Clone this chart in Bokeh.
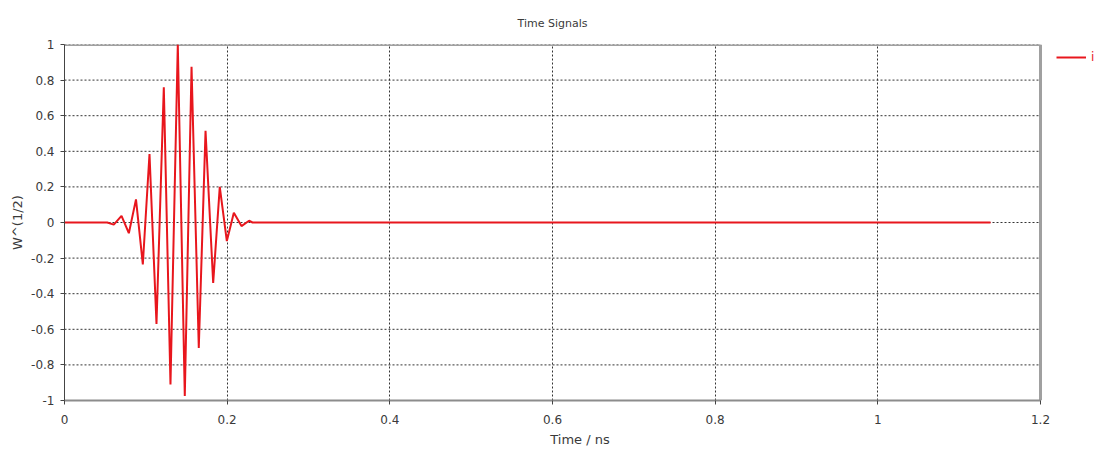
from bokeh.plotting import figure
from bokeh.models import Range1d, FixedTicker, Legend, LegendItem
from bokeh.embed import file_html
from bokeh.resources import INLINE

# ---- data ----
x_ticks = [0, 0.2, 0.4, 0.6, 0.8, 1, 1.2]
x_tick_labels = ["0", "0.2", "0.4", "0.6", "0.8", "1", "1.2"]
y_ticks = [-1, -0.8, -0.6, -0.4, -0.2, 0, 0.2, 0.4, 0.6, 0.8, 1]
y_tick_labels = ["-1", "-0.8", "-0.6", "-0.4", "-0.2", "0", "0.2", "0.4", "0.6", "0.8", "1"]

# time (ns) and signal (W^(1/2)) at the extrema of the pulse
time_ns = [0.0, 0.0525, 0.0606, 0.0701, 0.0791, 0.0879, 0.0963, 0.1045, 0.1131,
           0.1221, 0.1303, 0.1393, 0.1479, 0.1562, 0.1651, 0.1734, 0.1828, 0.1909,
           0.1996, 0.2082, 0.2176, 0.2269, 0.2312, 1.1386]
signal = [0.0, 0.0, -0.012, 0.037, -0.06, 0.13, -0.235, 0.385, -0.57,
          0.76, -0.91, 1.0, -0.975, 0.875, -0.705, 0.515, -0.34, 0.20,
          -0.104, 0.055, -0.02, 0.01, 0.0, 0.0]
series_name = "i"

FONT = "DejaVu Sans"
TXT = "#3a3a3a"
BORDER = "#a0a0a0"

# plot area reaches the right edge so the legend (outside the axes box) is visible;
# the axes box itself ends at the last x tick
x_min, x_max = x_ticks[0], x_ticks[-1]
y_min, y_max = y_ticks[0], y_ticks[-1]
x_view_end = x_max * (1095 - 64) / 976.0

p = figure(width=1095, height=452, output_backend="svg", toolbar_location=None,
           x_range=Range1d(x_min, x_view_end), y_range=Range1d(y_min, y_max),
           min_border_left=64, min_border_right=0, min_border_top=43, min_border_bottom=52,
           background_fill_color="white", border_fill_color="white")

p.title.text = "Time Signals"
p.title.align = "left"
p.title.offset = 453
p.title.text_font = FONT
p.title.text_font_size = "11px"
p.title.text_font_style = "normal"
p.title.text_color = TXT
p.title.standoff = 29

p.outline_line_color = None

# grids: vertical via Grid, horizontal drawn only across the axes box
p.xgrid.ticker = FixedTicker(ticks=x_ticks)
p.xgrid.grid_line_color = "#333333"
p.xgrid.grid_line_dash = "2 2"
p.xgrid.grid_line_width = 1
p.ygrid.visible = False
p.segment(x0=[x_min] * len(y_ticks), x1=[x_max] * len(y_ticks), y0=y_ticks, y1=y_ticks,
          line_color="#333333", line_dash="2 2", line_width=1, level="underlay")

# axes box top and right edges
p.segment(x0=[x_min, x_max], x1=[x_max, x_max], y0=[y_max, y_min], y1=[y_max, y_max],
          line_color=BORDER, line_width=3)

# axes
p.xaxis.ticker = FixedTicker(ticks=x_ticks)
p.yaxis.ticker = FixedTicker(ticks=y_ticks)
p.xaxis.bounds = (x_min, x_max)
p.xaxis.major_label_overrides = dict(zip(x_ticks, x_tick_labels))
p.yaxis.major_label_overrides = dict(zip(y_ticks, y_tick_labels))
for ax in (p.xaxis, p.yaxis):
    ax.major_tick_out = 4
    ax.major_tick_in = 0
    ax.minor_tick_line_color = None
    ax.major_tick_line_color = "#444444"
    ax.major_label_text_font = FONT
    ax.major_label_text_font_size = "12px"
    ax.major_label_text_color = TXT
    ax.axis_label_text_font = FONT
    ax.axis_label_text_font_size = "13px"
    ax.axis_label_text_font_style = "normal"
    ax.axis_label_text_color = TXT
p.xaxis.axis_line_color = "#8c8c8c"
p.xaxis.axis_line_width = 2
p.xaxis.major_label_standoff = 10
p.xaxis.axis_label = "Time / ns"
p.xaxis.axis_label_standoff = 5
p.yaxis.axis_line_color = "#444444"
p.yaxis.axis_line_width = 1
p.yaxis.major_label_standoff = 6
p.yaxis.axis_label = "W^(1/2)"
p.yaxis.axis_label_standoff = 3

r = p.line(time_ns, signal, line_color="#e8161d", line_width=2)

legend = Legend(items=[LegendItem(label=series_name, renderers=[r])],
                location=(992, 336), padding=0, margin=0, spacing=0,
                glyph_width=30, glyph_height=14, label_standoff=5,
                label_text_font=FONT, label_text_font_size="12px",
                label_text_color="#e8161d",
                border_line_alpha=0, background_fill_alpha=0)
p.add_layout(legend)

open("out.html", "w").write(file_html(p, INLINE))
